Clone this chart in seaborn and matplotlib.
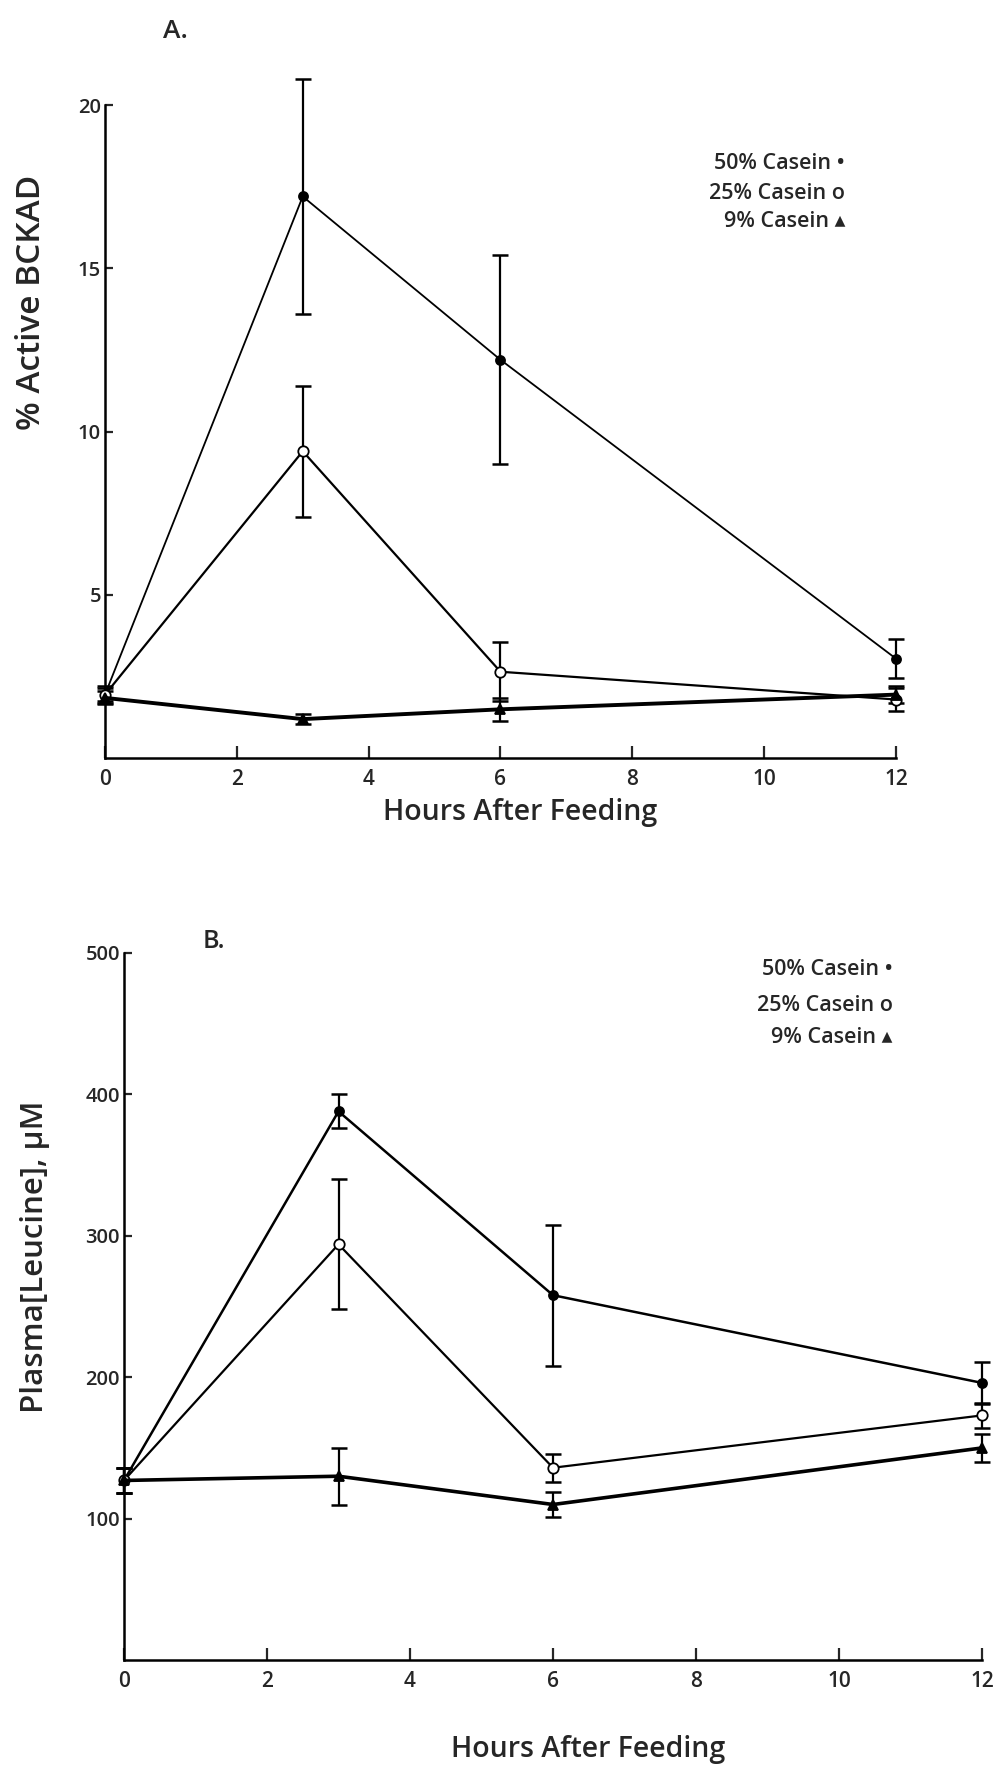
import numpy as np
import pandas as pd
import matplotlib
matplotlib.use("Agg")
import matplotlib.pyplot as plt
import seaborn as sns

# Sampling times (hours after feeding)
hours = [0, 3, 6, 12]
diets = ["50% Casein", "25% Casein", "9% Casein"]

# Panel A: % active BCKAD (mean, SEM)
bckad_50 = [1.95, 17.2, 12.2, 3.05]
bckad_50_err = [0.25, 3.6, 3.2, 0.6]
bckad_25 = [1.95, 9.4, 2.65, 1.8]
bckad_25_err = [0.2, 2.0, 0.9, 0.35]
bckad_9 = [1.85, 1.2, 1.5, 1.95]
bckad_9_err = [0.2, 0.15, 0.35, 0.25]

# Panel B: plasma leucine, uM (mean, SEM)
leu_50 = [127, 388, 258, 196]
leu_50_err = [9, 12, 50, 15]
leu_25 = [127, 294, 136, 173]
leu_25_err = [9, 46, 10, 9]
leu_9 = [127, 130, 110, 150]
leu_9_err = [9, 20, 9, 10]

a_ticks = [5, 10, 15, 20]
b_ticks = [100, 200, 300, 400, 500]
x_ticks = [0, 2, 4, 6, 8, 10, 12]
legend_labels = ["50% Casein \u2022", "25% Casein o", "9% Casein \u25b4"]

sns.set_style("ticks")
plt.rcParams["font.family"] = ["Open Sans", "DejaVu Sans"]

fig = plt.figure(figsize=(10, 17.73), dpi=100)
axA = fig.add_axes([0.105, 0.5723, 0.791, 0.3869])
axB = fig.add_axes([0.124, 0.0637, 0.858, 0.3988])

styles = {
    "50% Casein": dict(marker="o", mfc="black", ms=6.5),
    "25% Casein": dict(marker="o", mfc="white", ms=7.5),
    "9% Casein": dict(marker="^", mfc="black", ms=7),
}


def draw_panel(ax, means, errs, widths):
    frames = []
    for d, m in zip(diets, means):
        frames.append(pd.DataFrame({"hours": hours, "value": m, "diet": d}))
    df = pd.concat(frames, ignore_index=True)
    for d, m, e, lw in zip(diets, means, errs, widths):
        sub = df[df["diet"] == d]
        st = styles[d]
        sns.lineplot(data=sub, x="hours", y="value", ax=ax, color="black",
                     linewidth=lw, marker=st["marker"], markersize=st["ms"],
                     markerfacecolor=st["mfc"], markeredgecolor="black",
                     markeredgewidth=1.3, clip_on=False, zorder=3, legend=False)
        ax.errorbar(hours, m, yerr=e, fmt="none", ecolor="black",
                    elinewidth=1.6, capsize=5.5, capthick=1.8, clip_on=False,
                    zorder=2)


draw_panel(axA, [bckad_50, bckad_25, bckad_9],
           [bckad_50_err, bckad_25_err, bckad_9_err], [1.3, 1.6, 2.8])
draw_panel(axB, [leu_50, leu_25, leu_9],
           [leu_50_err, leu_25_err, leu_9_err], [1.8, 1.6, 2.6])

for ax in (axA, axB):
    sns.despine(ax=ax)
    ax.set_xlim(0, 12)
    ax.set_xticks(x_ticks)
    ax.set_xticklabels([str(t) for t in x_ticks])
    ax.tick_params(axis="x", direction="in", length=9, width=1.6,
                   labelsize=15, pad=8)
    ax.tick_params(axis="y", direction="in", length=6, width=1.6,
                   labelsize=14.5, pad=3)
    for s in ("left", "bottom"):
        ax.spines[s].set_linewidth(1.8)
        ax.spines[s].set_color("black")
    for lbl in ax.get_xticklabels() + ax.get_yticklabels():
        lbl.set_fontweight("semibold")

axA.set_ylim(0, 21)
axA.set_yticks(a_ticks)
axA.set_yticklabels([str(t) for t in a_ticks])
axA.spines["left"].set_bounds(0, 20)
axA.set_ylabel("% Active BCKAD", fontsize=24, fontweight="semibold")
axA.yaxis.set_label_coords(-0.072, 0.664)
axA.set_xlabel("Hours After Feeding", fontsize=20.5, fontweight="semibold")
axA.xaxis.set_label_coords(0.525, -0.058)

axB.set_ylim(0, 500)
axB.set_yticks(b_ticks)
axB.set_yticklabels([str(t) for t in b_ticks])
axB.set_ylabel("Plasma[Leucine], \u03bcM", fontsize=22.5, fontweight="semibold")
axB.yaxis.set_label_coords(-0.086, 0.57)
axB.set_xlabel("Hours After Feeding", fontsize=20.5, fontweight="semibold")
axB.xaxis.set_label_coords(0.541, -0.106)

fig.text(0.175, 0.982, "A.", fontsize=19, fontweight="semibold",
         ha="center", va="center")
fig.text(0.214, 0.469, "B.", fontsize=18, fontweight="semibold",
         ha="center", va="center")

for ax, x, ys in ((axA, 0.9355, [0.8678, 0.824, 0.782]),
                  (axB, 0.896, [0.976, 0.926, 0.880])):
    for lab, y in zip(legend_labels, ys):
        ax.text(x, y, lab, transform=ax.transAxes, ha="right", va="center",
                fontsize=15.5, fontweight="semibold")

fig.savefig("out.png", dpi=100, facecolor="white")
